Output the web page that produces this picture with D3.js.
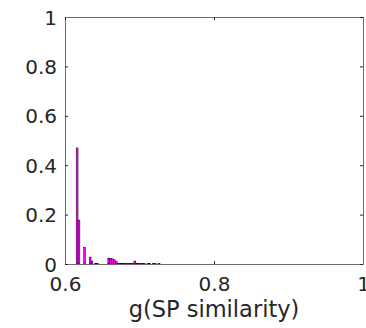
<!DOCTYPE html>
<html>
<head>
<meta charset="utf-8">
<script src="https://cdn.jsdelivr.net/npm/d3@7"></script>
<style>
  body { margin: 0; background: #fff; }
  svg { display: block; font-family: "DejaVu Sans", sans-serif; }
</style>
</head>
<body>
<div id="chart"></div>
<script>
// histogram bins (left edges) and their relative frequencies
const binWidth = 0.0025;
const binEdges = [
  0.615, 0.6175, 0.62, 0.6225, 0.625, 0.6275, 0.63, 0.6325, 0.635, 0.6375,
  0.64, 0.6425, 0.645, 0.6475, 0.65, 0.6525, 0.655, 0.6575, 0.66, 0.6625,
  0.665, 0.6675, 0.67, 0.6725, 0.675, 0.6775, 0.68, 0.6825, 0.685, 0.6875,
  0.69, 0.6925, 0.695, 0.6975, 0.70, 0.7025, 0.705, 0.7075, 0.71, 0.7125,
  0.715, 0.7175, 0.72, 0.7225, 0.725
];
const freqs = [
  0.470, 0.178, 0, 0, 0.068, 0, 0, 0.028, 0.012, 0,
  0.003, 0.003, 0, 0, 0, 0, 0, 0.023, 0.023, 0.021,
  0.017, 0.010, 0.003, 0.003, 0.003, 0.003, 0.003, 0.003, 0.003, 0.003,
  0.003, 0.012, 0.003, 0.003, 0.003, 0.003, 0.003, 0, 0.002, 0.002,
  0, 0.002, 0.002, 0, 0.002
];
const xTicks = [0.6, 0.8, 1];
const yTicks = [0, 0.2, 0.4, 0.6, 0.8, 1];
const xLabel = "g(SP similarity)";

const W = 366, H = 328;
const margin = { top: 17, right: 3, bottom: 64, left: 65 };
const width = W - margin.left - margin.right;
const height = H - margin.top - margin.bottom;

const svg = d3.select("#chart").append("svg")
    .attr("width", W)
    .attr("height", H);

const g = svg.append("g")
    .attr("transform", "translate(" + margin.left + "," + margin.top + ")");

const x = d3.scaleLinear().domain([0.6, 1]).range([0, width]);
const y = d3.scaleLinear().domain([0, 1]).range([height, 0]);

// bars
g.selectAll(".bar")
    .data(freqs)
    .enter().append("rect")
    .attr("class", "bar")
    .attr("x", (d, i) => x(binEdges[i]))
    .attr("y", d => y(d))
    .attr("width", (d, i) => x(binEdges[i] + binWidth) - x(binEdges[i]))
    .attr("height", d => height - y(d))
    .style("fill", "#ff00ff")
    .style("stroke", "#000")
    .style("stroke-width", 0.45);

const axisColor = "#262626";

// axes with inward ticks
const xAxis = g.append("g")
    .attr("transform", "translate(0," + height + ")")
    .call(d3.axisBottom(x).tickValues(xTicks).tickSizeInner(-3).tickSizeOuter(0).tickPadding(8)
        .tickFormat(d3.format("")));
const yAxis = g.append("g")
    .call(d3.axisLeft(y).tickValues(yTicks).tickSizeInner(-3).tickSizeOuter(0).tickPadding(8)
        .tickFormat(d3.format("")));
const topAxis = g.append("g")
    .call(d3.axisTop(x).tickValues(xTicks).tickSizeInner(-3).tickSizeOuter(0).tickFormat(""));
const rightAxis = g.append("g")
    .attr("transform", "translate(" + width + ",0)")
    .call(d3.axisRight(y).tickValues(yTicks).tickSizeInner(-3).tickSizeOuter(0).tickFormat(""));

[xAxis, yAxis, topAxis, rightAxis].forEach(a => {
    a.selectAll("path").style("stroke", "#6e6e6e");
    a.selectAll("line").style("stroke", axisColor);
    a.selectAll("text")
        .style("font-family", "DejaVu Sans, sans-serif")
        .style("font-size", "20px")
        .style("fill", axisColor);
});
xAxis.selectAll("text").attr("dy", "0.95em");
yAxis.selectAll("text").attr("dy", "0.35em");

// x-axis label
g.append("text")
    .attr("x", width / 2)
    .attr("y", height + 53)
    .attr("text-anchor", "middle")
    .style("font-size", "22.5px")
    .style("fill", axisColor)
    .text(xLabel);
</script>
</body>
</html>
